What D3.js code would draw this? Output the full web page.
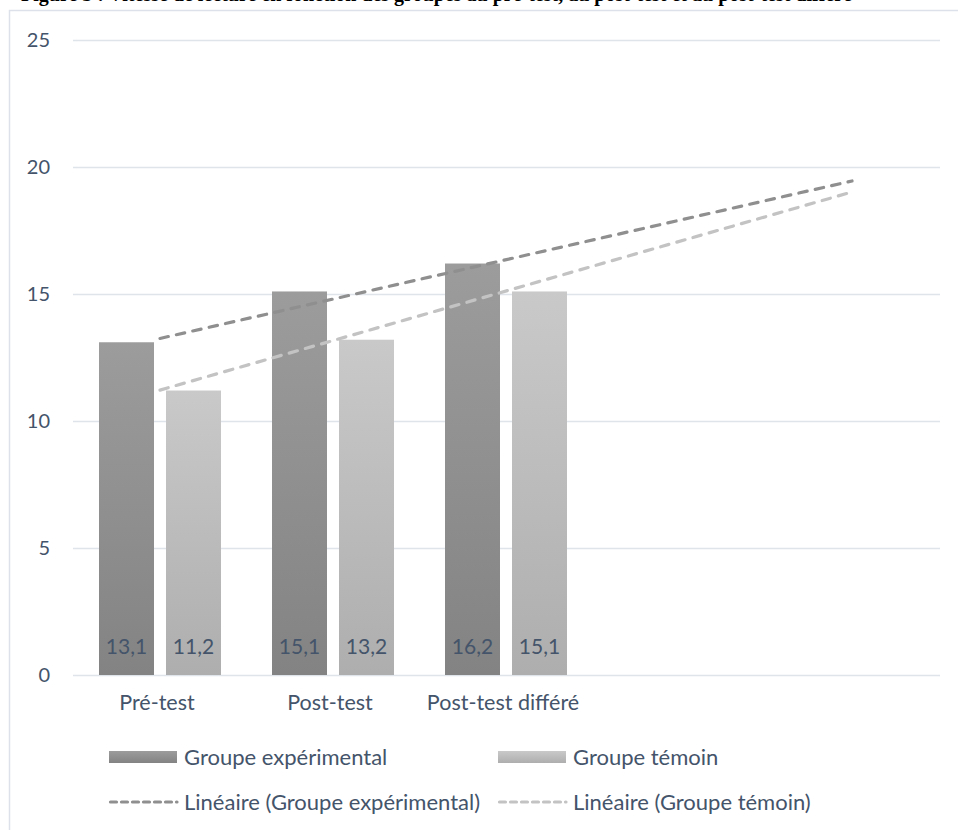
<!DOCTYPE html>
<html>
<head>
<meta charset="utf-8">
<script src="https://cdn.jsdelivr.net/npm/d3@7/dist/d3.min.js"></script>
<style>
  html, body { margin: 0; padding: 0; background: #fff; }
  svg { display: block; }
</style>
</head>
<body>
<svg id="chart" width="958" height="830"></svg>
<script>
// ---- data ----
const titleText = "Figure 3 : Vitesse de lecture en fonction des groupes au pré-test, au post-test et au post-test différé";
const categories = ["Pré-test", "Post-test", "Post-test différé"];
const seriesNames = ["Groupe expérimental", "Groupe témoin"];
const experimentalValues = [13.1, 15.1, 16.2];
const controlValues = [11.2, 13.2, 15.1];
const trendForwardPeriods = 2;
const yTicks = [0, 5, 10, 15, 20, 25];
const trendNames = ["Linéaire (Groupe expérimental)", "Linéaire (Groupe témoin)"];

// ---- layout ----
const plot = { left: 73.5, right: 938.5, top: 40, bottom: 675 };
const font = "Lato, 'Open Sans', sans-serif";
const textColor = "#44546a";

const svg = d3.select("#chart");

// gradients
const defs = svg.append("defs");
function grad(id, top, bottom) {
  const g = defs.append("linearGradient").attr("id", id)
    .attr("x1", 0).attr("y1", 0).attr("x2", 0).attr("y2", 1);
  g.append("stop").attr("offset", "0%").attr("stop-color", top);
  g.append("stop").attr("offset", "100%").attr("stop-color", bottom);
}
grad("gExp", "#9c9c9c", "#838383");
grad("gCtl", "#c9c9c9", "#aeaeae");
const fills = ["url(#gExp)", "url(#gCtl)"];
const trendColors = ["#8f8f8f", "#c3c3c3"];

// title (mostly above the page edge, as in the reference)
svg.append("text")
  .attr("x", 21).attr("y", 1)
  .attr("font-family", "'Liberation Serif', 'Times New Roman', serif")
  .attr("font-weight", "bold").attr("font-size", 20)
  .attr("fill", "#000")
  .text(titleText);

// frame
svg.append("rect")
  .attr("x", 9.5).attr("y", 10.5).attr("width", 1000).attr("height", 900)
  .attr("fill", "#fff").attr("stroke", "#dde2ea").attr("stroke-width", 1.5);

// scales
const nSlots = categories.length + trendForwardPeriods;
const x = d3.scaleBand().domain(d3.range(nSlots)).range([plot.left, plot.right]).padding(0);
const x1 = d3.scaleBand().domain(d3.range(seriesNames.length))
  .range([25.5, x.bandwidth() - 25.5]).paddingInner(12 / 67).paddingOuter(0);
const y = d3.scaleLinear().domain([0, 25]).range([plot.bottom, plot.top]);

// gridlines
svg.append("g").selectAll("line").data(yTicks).join("line")
  .attr("x1", 73).attr("x2", 940)
  .attr("y1", d => Math.round(y(d)) + 0.5).attr("y2", d => Math.round(y(d)) + 0.5)
  .attr("stroke", "#dfe3ea").attr("stroke-width", 1.3);

// y axis labels
const yAxis = d3.axisLeft(y).tickValues(yTicks).tickSize(0).tickPadding(0).tickFormat(d3.format("d"));
const gy = svg.append("g").attr("transform", "translate(50,0)").call(yAxis);
gy.select(".domain").remove();
gy.selectAll("text").attr("font-family", font).attr("font-size", 20).attr("fill", textColor);

// x axis labels
const xAxis = d3.axisBottom(x).tickValues(d3.range(categories.length)).tickSize(0).tickPadding(0)
  .tickFormat(i => categories[i]);
const gx = svg.append("g").attr("transform", `translate(-3,${plot.bottom + 20})`).call(xAxis);
gx.select(".domain").remove();
gx.selectAll("text").attr("font-family", font).attr("font-size", 21.5).attr("fill", textColor);

// bars
const rows = categories.map((c, i) => ({ i, vals: [experimentalValues[i], controlValues[i]] }));
const fmt = v => d3.format(".1f")(v).replace(".", ",");
const cat = svg.append("g").selectAll("g").data(rows).join("g")
  .attr("transform", d => `translate(${x(d.i)},0)`);
cat.selectAll("rect").data(d => d.vals.map((v, s) => ({ v, s }))).join("rect")
  .attr("x", d => x1(d.s)).attr("width", x1.bandwidth())
  .attr("y", d => y(d.v)).attr("height", d => y(0) - y(d.v))
  .attr("fill", d => fills[d.s]);
cat.selectAll("text").data(d => d.vals.map((v, s) => ({ v, s }))).join("text")
  .attr("x", d => x1(d.s) + x1.bandwidth() / 2)
  .attr("y", y(0) - 21)
  .attr("text-anchor", "middle")
  .attr("font-family", font).attr("font-size", 21).attr("fill", textColor)
  .text(d => fmt(d.v));

// linear trendlines (least squares on category index 1..n, forecast forward)
function regression(vals) {
  const xs = vals.map((_, i) => i + 1);
  const mx = d3.mean(xs), my = d3.mean(vals);
  const b = d3.sum(xs, (xv, i) => (xv - mx) * (vals[i] - my)) / d3.sum(xs, xv => (xv - mx) ** 2);
  return xv => my + b * (xv - mx);
}
[experimentalValues, controlValues].forEach((vals, s) => {
  const f = regression(vals);
  const pts = [1, nSlots].map(k => [x(k - 1) + x.bandwidth() / 2, y(f(k))]);
  svg.append("path")
    .attr("d", d3.line()(pts))
    .attr("fill", "none").attr("stroke", trendColors[s]).attr("stroke-width", 3.2)
    .attr("stroke-dasharray", "8.5,8.3").attr("stroke-linecap", "round");
});

// legend
const legCols = [109, 498];
const legRows = [757, 802];
const lg = svg.append("g");
seriesNames.forEach((name, s) => {
  lg.append("rect").attr("x", legCols[s]).attr("y", legRows[0] - 6).attr("width", 68).attr("height", 12)
    .attr("fill", fills[s]);
  lg.append("text").attr("x", legCols[s] + 75).attr("y", legRows[0]).attr("dy", "0.35em")
    .attr("font-family", font).attr("font-size", 22).attr("fill", textColor).text(name);
});
trendNames.forEach((name, s) => {
  lg.append("line").attr("x1", legCols[s] + 1.5).attr("x2", legCols[s] + 68)
    .attr("y1", legRows[1]).attr("y2", legRows[1])
    .attr("stroke", trendColors[s]).attr("stroke-width", 3.2)
    .attr("stroke-dasharray", "6,5").attr("stroke-linecap", "round");
  lg.append("text").attr("x", legCols[s] + 75).attr("y", legRows[1]).attr("dy", "0.35em")
    .attr("font-family", font).attr("font-size", 22).attr("fill", textColor).text(name);
});
</script>
</body>
</html>
